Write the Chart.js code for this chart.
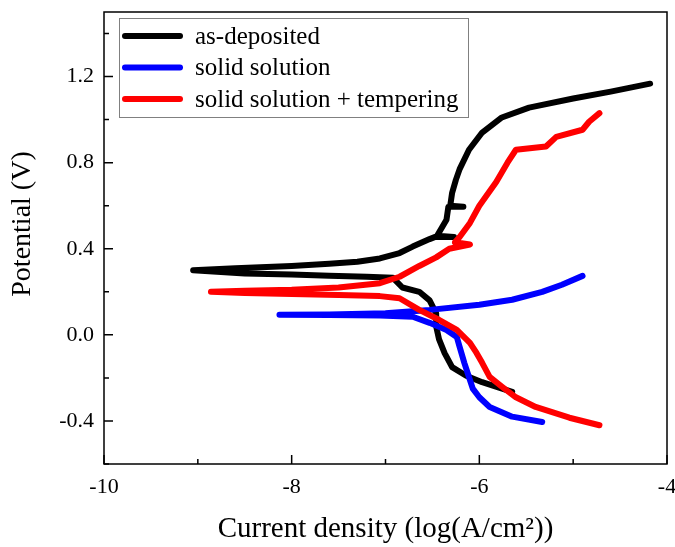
<!DOCTYPE html>
<html>
<head>
<meta charset="utf-8">
<script src="https://cdn.jsdelivr.net/npm/chart.js@4/dist/chart.umd.min.js"></script>
<style>
html,body{margin:0;padding:0;background:#fff;}
canvas{display:block;}
</style>
</head>
<body>
<canvas id="c" width="675" height="547"></canvas>
<script>
// ---- data (log current density, potential) ----
const seriesNames = ['as-deposited', 'solid solution', 'solid solution + tempering'];
const seriesColors = ['#000000', '#0000ff', '#ff0000'];

const asDepositedX = [-5.65, -5.79, -5.97, -6.14, -6.29, -6.37, -6.43, -6.46, -6.46, -6.53, -6.64, -6.82, -6.92, -7.2, -7.6, -8.0, -8.5, -9.05,
  -8.6, -8.0, -7.6, -7.3, -7.06, -6.85, -6.71, -6.53, -6.47, -6.27, -6.45, -6.35, -6.33, -6.17, -6.31, -6.29, -6.25, -6.21, -6.11, -5.97, -5.76, -5.47, -5.0, -4.6, -4.18];
const asDepositedY = [-0.265, -0.245, -0.22, -0.19, -0.15, -0.085, -0.02, 0.04, 0.10, 0.16, 0.20, 0.22, 0.265, 0.27, 0.275, 0.28, 0.285, 0.30,
  0.31, 0.32, 0.33, 0.34, 0.355, 0.38, 0.41, 0.445, 0.455, 0.455, 0.46, 0.535, 0.595, 0.595, 0.60, 0.66, 0.72, 0.77, 0.86, 0.94, 1.01, 1.056, 1.098, 1.13, 1.167];

const solidSolutionX = [-5.33, -5.65, -5.89, -6.0, -6.07, -6.1, -6.16, -6.21, -6.24, -6.35, -6.53, -6.71, -7.06, -7.6, -8.13,
  -7.6, -7.0, -6.53, -6.0, -5.65, -5.33, -5.12, -4.9];
const solidSolutionY = [-0.405, -0.38, -0.335, -0.29, -0.25, -0.21, -0.13, -0.056, -0.01, 0.023, 0.056, 0.084, 0.09, 0.092, 0.093,
  0.095, 0.10, 0.116, 0.14, 0.163, 0.20, 0.233, 0.274];

const temperingX = [-4.72, -5.04, -5.4, -5.61, -5.76, -5.89, -5.97, -6.03, -6.1, -6.24, -6.43, -6.64, -6.85, -7.06, -7.5, -8.0, -8.5, -8.86,
  -8.5, -8.0, -7.5, -7.06, -6.85, -6.64, -6.46, -6.32, -6.1, -6.26, -6.21, -6.1, -6.0, -5.82, -5.7, -5.61, -5.29, -5.18, -4.9, -4.83, -4.72];
const temperingY = [-0.42, -0.385, -0.335, -0.29, -0.24, -0.195, -0.13, -0.084, -0.037, 0.023, 0.07, 0.116, 0.17, 0.18, 0.185, 0.19, 0.195, 0.20,
  0.205, 0.21, 0.22, 0.24, 0.27, 0.32, 0.36, 0.40, 0.42, 0.43, 0.455, 0.52, 0.60, 0.71, 0.80, 0.86, 0.875, 0.92, 0.953, 0.99, 1.03];

// axis ticks
const xMajorTicks = [-10, -8, -6, -4];
const xMinorTicks = [-9, -7, -5];
const yMajorTicks = [-0.4, 0.0, 0.4, 0.8, 1.2];
const yMajorLabels = ['-0.4', '0.0', '0.4', '0.8', '1.2'];
const yMinorTicks = [-0.6, -0.2, 0.2, 0.6, 1.0, 1.4];

const xTitle = 'Current density (log(A/cm\u00B2))';
const yTitle = '    Potential (V)';

const FONT = "'Liberation Serif', 'Times New Roman', serif";

function pts(xs, ys) { return xs.map((x, i) => ({x: x, y: ys[i]})); }

const allSeries = [pts(asDepositedX, asDepositedY), pts(solidSolutionX, solidSolutionY), pts(temperingX, temperingY)];
const drawOrder = [2, 1, 0];

const datasets = allSeries.map((d, i) => ({
  label: seriesNames[i],
  data: d,
  showLine: true,
  borderColor: seriesColors[i],
  backgroundColor: seriesColors[i],
  borderWidth: 6,
  borderCapStyle: 'round',
  borderJoinStyle: 'round',
  pointRadius: 0,
  tension: 0,
  order: drawOrder[i]
}));

const framePlugin = {
  id: 'frame',
  afterDatasetsDraw(chart) {
    const ctx = chart.ctx;
    const a = chart.chartArea;
    const xs = chart.scales.x, ys = chart.scales.y;
    ctx.save();
    ctx.strokeStyle = '#000';
    ctx.lineWidth = 1.5;
    ctx.strokeRect(a.left, a.top, a.right - a.left, a.bottom - a.top);
    ctx.beginPath();
    xMajorTicks.forEach(v => { const p = xs.getPixelForValue(v); ctx.moveTo(p, a.bottom); ctx.lineTo(p, a.bottom - 9); });
    xMinorTicks.forEach(v => { const p = xs.getPixelForValue(v); ctx.moveTo(p, a.bottom); ctx.lineTo(p, a.bottom - 5); });
    yMajorTicks.forEach(v => { const p = ys.getPixelForValue(v); ctx.moveTo(a.left, p); ctx.lineTo(a.left + 9, p); });
    yMinorTicks.forEach(v => { const p = ys.getPixelForValue(v); ctx.moveTo(a.left, p); ctx.lineTo(a.left + 5, p); });
    ctx.stroke();
    ctx.restore();
  },
  afterDraw(chart) {
    // legend box drawn from dataset labels/colours
    const ctx = chart.ctx;
    const a = chart.chartArea;
    const bx = a.left + 15, by = a.top + 6, bw = 349, bh = 99;
    ctx.save();
    ctx.fillStyle = '#fff';
    ctx.fillRect(bx, by, bw, bh);
    ctx.strokeStyle = '#808080';
    ctx.lineWidth = 1;
    ctx.strokeRect(bx + 0.5, by + 0.5, bw, bh);
    ctx.font = "25px " + FONT;
    ctx.textBaseline = 'middle';
    ctx.textAlign = 'left';
    chart.data.datasets.forEach((ds, i) => {
      const cy = by + 18 + i * 31.5;
      ctx.strokeStyle = ds.borderColor;
      ctx.lineWidth = 6;
      ctx.lineCap = 'round';
      ctx.beginPath();
      ctx.moveTo(bx + 6, cy);
      ctx.lineTo(bx + 61, cy);
      ctx.stroke();
      ctx.fillStyle = '#000';
      ctx.fillText(ds.label, bx + 76, cy + 1);
    });
    ctx.restore();
  }
};

new Chart(document.getElementById('c'), {
  type: 'scatter',
  data: { datasets: datasets },
  options: {
    responsive: false,
    animation: false,
    events: [],
    layout: { padding: { top: 12, right: 8, left: 0, bottom: 0 } },
    plugins: { legend: { display: false }, tooltip: { enabled: false } },
    scales: {
      x: {
        type: 'linear', min: -10, max: -4,
        afterBuildTicks(s) { s.ticks = xMajorTicks.map(v => ({value: v})); },
        afterFit(s) { s.height = 83; s.paddingLeft = 0; s.paddingRight = 0; },
        grid: { display: false, drawTicks: false },
        border: { display: false },
        ticks: { color: '#000', font: { family: FONT, size: 22 }, padding: 10, maxRotation: 0,
                 callback: v => String(v) },
        title: { display: true, text: xTitle, color: '#000', font: { family: FONT, size: 29 }, padding: { top: 0, bottom: 0 } }
      },
      y: {
        type: 'linear', min: -0.6, max: 1.5,
        afterBuildTicks(s) { s.ticks = yMajorTicks.map(v => ({value: v})); },
        afterFit(s) { s.width = 104; s.paddingTop = 0; s.paddingBottom = 0; },
        grid: { display: false, drawTicks: false },
        border: { display: false },
        ticks: { color: '#000', font: { family: FONT, size: 22 }, padding: 10,
                 callback: (v, i) => yMajorLabels[i] },
        title: { display: true, text: yTitle, color: '#000', font: { family: FONT, size: 28 }, padding: { top: 6, bottom: 0 } }
      }
    }
  },
  plugins: [framePlugin]
});
</script>
</body>
</html>
